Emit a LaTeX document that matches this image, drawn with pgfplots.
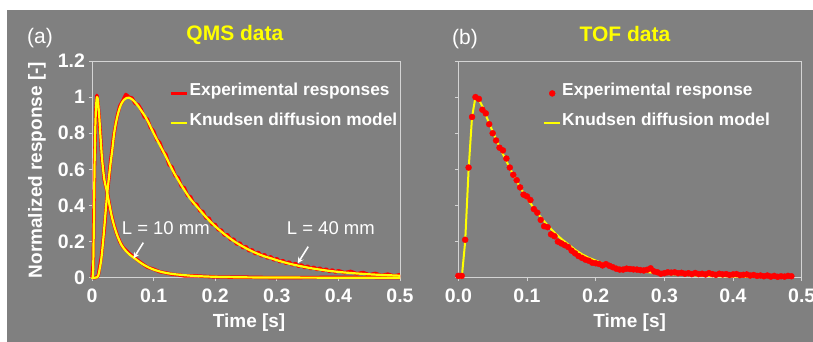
\documentclass[border=0pt]{standalone}
\usepackage{fontspec}
\setmainfont{Liberation Sans}
\usepackage{pgfplots}
\pgfplotsset{compat=1.18}
\usetikzlibrary{arrows.meta}
\definecolor{bg}{RGB}{128,128,128}
\definecolor{frm}{RGB}{212,212,212}
\definecolor{yel}{RGB}{255,255,0}
\definecolor{rd}{RGB}{255,0,0}

\pgfplotstableread{
t v
0 0
0.001 0.002
0.002 0.06
0.003 0.30
0.004 0.58
0.005 0.78
0.006 0.90
0.007 0.97
0.008 1.00
0.009 0.995
0.010 0.97
0.012 0.88
0.014 0.77
0.016 0.67
0.018 0.60
0.020 0.545
0.022 0.51
0.025 0.465
0.028 0.41
0.032 0.34
0.037 0.275
0.042 0.225
0.048 0.18
0.055 0.148
0.062 0.125
0.070 0.105
0.080 0.08
0.090 0.06
0.100 0.045
0.115 0.03
0.130 0.021
0.150 0.014
0.170 0.009
0.200 0.005
0.250 0.002
0.300 0.001
0.400 0
0.500 0
}\modelten

\pgfplotstableread{
t v
0 0
0.005 0
0.008 0.002
0.010 0.01
0.012 0.04
0.015 0.10
0.018 0.20
0.021 0.32
0.024 0.44
0.027 0.54
0.030 0.63
0.033 0.71
0.036 0.80
0.039 0.86
0.042 0.905
0.045 0.94
0.048 0.965
0.052 0.985
0.056 0.995
0.060 0.997
0.064 0.99
0.069 0.975
0.075 0.95
0.080 0.925
0.086 0.895
0.093 0.85
0.100 0.80
0.110 0.735
0.120 0.67
0.130 0.60
0.140 0.54
0.150 0.485
0.160 0.435
0.170 0.395
0.180 0.355
0.190 0.318
0.200 0.285
0.210 0.255
0.220 0.228
0.230 0.203
0.240 0.182
0.250 0.163
0.260 0.146
0.270 0.131
0.280 0.118
0.290 0.108
0.300 0.097
0.310 0.087
0.320 0.078
0.330 0.070
0.340 0.063
0.350 0.056
0.360 0.050
0.370 0.045
0.380 0.040
0.390 0.036
0.400 0.032
0.420 0.026
0.440 0.021
0.460 0.017
0.480 0.014
0.500 0.011
}\modelforty

\pgfplotstableread{
t v
0 0
0.002 0.08
0.004 0.60
0.006 0.92
0.008 1.01
0.010 0.96
0.012 0.87
0.014 0.78
0.016 0.66
0.018 0.61
0.020 0.54
0.025 0.47
0.030 0.37
0.035 0.30
0.040 0.245
0.045 0.20
0.050 0.17
0.060 0.135
0.070 0.108
0.080 0.082
0.090 0.058
0.100 0.047
0.110 0.033
0.120 0.027
0.130 0.019
0.140 0.016
0.150 0.010
0.170 0.010
0.200 0.004
0.250 0.003
0.300 0.000
0.400 0.002
0.500 0.000
}\expten

\pgfplotstableread{
t v
0 0
0.005 0
0.010 0.01
0.015 0.11
0.020 0.27
0.025 0.47
0.030 0.64
0.035 0.78
0.040 0.88
0.045 0.95
0.050 0.98
0.055 1.015
0.060 1.00
0.065 0.995
0.070 0.965
0.075 0.958
0.080 0.93
0.085 0.89
0.090 0.878
0.095 0.83
0.100 0.812
0.105 0.765
0.110 0.748
0.115 0.70
0.120 0.683
0.125 0.625
0.130 0.613
0.135 0.565
0.140 0.553
0.145 0.505
0.150 0.498
0.155 0.455
0.160 0.448
0.165 0.41
0.170 0.407
0.175 0.37
0.180 0.367
0.185 0.33
0.190 0.330
0.195 0.295
0.200 0.295
0.205 0.265
0.210 0.264
0.215 0.235
0.220 0.239
0.225 0.21
0.230 0.214
0.235 0.185
0.240 0.193
0.245 0.165
0.250 0.173
0.255 0.148
0.260 0.155
0.265 0.132
0.270 0.141
0.275 0.12
0.280 0.128
0.285 0.108
0.290 0.117
0.295 0.098
0.300 0.106
0.305 0.088
0.310 0.095
0.315 0.079
0.320 0.087
0.325 0.071
0.330 0.079
0.335 0.063
0.340 0.071
0.345 0.056
0.350 0.064
0.355 0.050
0.360 0.058
0.365 0.045
0.370 0.053
0.375 0.040
0.380 0.048
0.385 0.035
0.390 0.043
0.395 0.031
0.400 0.039
0.410 0.028
0.420 0.035
0.430 0.022
0.440 0.029
0.450 0.016
0.460 0.024
0.470 0.012
0.480 0.020
0.490 0.010
0.500 0.017
}\expforty

\pgfplotstableread{
t v
0.000 0.01
0.005 0.01
0.010 0.21
0.015 0.61
0.020 0.89
0.025 1.00
0.030 0.99
0.035 0.93
0.040 0.91
0.045 0.85
0.050 0.80
0.055 0.76
0.060 0.72
0.065 0.705
0.070 0.66
0.075 0.61
0.080 0.57
0.085 0.54
0.090 0.50
0.095 0.46
0.100 0.45
0.105 0.43
0.110 0.38
0.115 0.36
0.120 0.32
0.125 0.285
0.130 0.28
0.135 0.24
0.140 0.23
0.145 0.20
0.150 0.19
0.155 0.18
0.160 0.17
0.165 0.15
0.170 0.135
0.175 0.12
0.180 0.11
0.185 0.10
0.190 0.094
0.195 0.083
0.200 0.080
0.205 0.076
0.210 0.068
0.215 0.075
0.220 0.066
0.225 0.058
0.230 0.050
0.235 0.045
0.240 0.045
0.245 0.050
0.250 0.048
0.255 0.046
0.260 0.045
0.265 0.042
0.270 0.040
0.275 0.044
0.280 0.052
0.285 0.035
0.290 0.030
0.295 0.022
0.300 0.025
0.305 0.030
0.310 0.028
0.315 0.030
0.320 0.025
0.325 0.027
0.330 0.022
0.335 0.025
0.340 0.020
0.345 0.026
0.350 0.020
0.355 0.022
0.360 0.018
0.365 0.025
0.370 0.020
0.375 0.016
0.380 0.022
0.385 0.018
0.390 0.020
0.395 0.015
0.400 0.018
0.405 0.020
0.410 0.014
0.415 0.016
0.420 0.018
0.425 0.012
0.430 0.015
0.435 0.010
0.440 0.012
0.445 0.008
0.450 0.012
0.455 0.006
0.460 0.010
0.465 0.005
0.470 0.008
0.475 0.006
0.480 0.010
0.485 0.008
}\tofexp

\pgfplotstableread{
t v
0.000 0
0.005 0
0.010 0.20
0.015 0.60
0.020 0.89
0.025 1.00
0.030 0.985
0.035 0.95
0.040 0.90
0.045 0.855
0.050 0.81
0.060 0.725
0.070 0.645
0.080 0.57
0.090 0.50
0.100 0.44
0.110 0.385
0.120 0.335
0.130 0.29
0.140 0.25
0.150 0.215
0.160 0.185
0.170 0.155
0.180 0.13
0.190 0.11
0.200 0.095
0.210 0.08
0.220 0.068
0.230 0.058
0.240 0.05
0.260 0.038
0.280 0.029
0.300 0.022
0.320 0.017
0.340 0.013
0.360 0.010
0.380 0.008
0.400 0.006
0.430 0.004
0.460 0.003
0.480 0.002
}\tofmodel

\pgfplotsset{
  panel/.style={
    scale only axis, height=216.7pt, clip=false,
    xmin=0, xmax=0.5, ymin=0, ymax=1.2,
    axis line style={frm, line width=0.9pt},
    tick style={frm, line width=0.9pt},
    tick align=outside, major tick length=3.5pt,
    xtick pos=bottom, ytick pos=left,
    xtick={0,0.1,0.2,0.3,0.4,0.5},
    ytick={0,0.2,0.4,0.6,0.8,1,1.2},
    /pgf/number format/assume math mode=true,
    ticklabel style={text=white, font=\fontsize{19.5}{19.5}\selectfont\bfseries},
    xticklabel style={yshift=-4pt},
    label style={text=white, font=\fontsize{19}{19}\selectfont\bfseries},
    title style={text=yel, font=\fontsize{21}{21}\selectfont\bfseries, anchor=center},
    legend style={draw=none, fill=none, text=white, anchor=north west,
      font=\fontsize{17.3}{17.3}\selectfont\bfseries,
      inner sep=0pt, row sep=17.5pt,
      nodes={inner sep=1pt, text height=0.75em, text depth=0.25em}},
    legend cell align=left,
    legend image code/.code={\draw[mark repeat=2,mark phase=2,##1] plot coordinates {(0pt,0pt) (8pt,0pt) (16pt,0pt)};},
  }
}

\begin{document}
\begin{tikzpicture}[x=1pt,y=1pt]
\useasboundingbox (0,0) rectangle (813,342);
\fill[white] (0,0) rectangle (813,342);
\fill[bg] (7,0) rectangle (813,332);

\begin{axis}[panel, width=308pt, at={(92pt,64.3pt)}, anchor=south west,
  title={QMS data}, title style={at={(0.464,1.094)}},
  xlabel={Time [s]}, xlabel style={at={(0.51,-0.209)}, anchor=center},
  ylabel={Normalized response [-]}, ylabel style={at={(-0.1786,0.497)}, anchor=center},
  legend style={at={(0.25,0.879)}}]
\addplot[rd, line width=3.4pt, line join=round] table {\expforty};
\addlegendentry{Experimental responses}
\addplot[rd, line width=3.4pt, line join=round, forget plot] table {\expten};
\addplot[yel, line width=2.2pt, smooth, line join=round] table {\modelforty};
\addlegendentry{Knudsen diffusion model}
\addplot[yel, line width=2.2pt, smooth, line join=round, forget plot] table {\modelten};
\node[text=white, font=\fontsize{21}{21}\selectfont] at (axis description cs:-0.169,1.106) {(a)};
\node[text=white, font=\fontsize{18.5}{18.5}\selectfont] at (axis cs:0.1198,0.277) {L = 10 mm};
\node[text=white, font=\fontsize{18.5}{18.5}\selectfont] at (axis cs:0.3877,0.277) {L = 40 mm};
\draw[white, line width=1.6pt, -{Stealth[length=6pt,width=6pt]}] (axis cs:0.0833,0.194) -- (axis cs:0.0674,0.107);
\draw[white, line width=1.6pt, -{Stealth[length=6pt,width=6pt]}] (axis cs:0.351,0.172) -- (axis cs:0.334,0.080);
\end{axis}

\begin{axis}[panel, width=343.4pt, at={(458.3pt,64.3pt)}, anchor=south west,
  title={TOF data}, title style={at={(0.4854,1.0984)}},
  xlabel={Time [s]}, xlabel style={at={(0.499,-0.209)}, anchor=center},
  yticklabels={},
  xticklabel style={/pgf/number format/.cd, fixed, fixed zerofill, precision=1},
  legend style={at={(0.2467,0.879)}}]
\addlegendimage{only marks, mark=*, rd, mark size=3pt}
\addlegendentry{Experimental response}
\addlegendimage{yel, line width=2pt}
\addlegendentry{Knudsen diffusion model}
\addplot[yel, line width=2pt, forget plot] table {\tofmodel};
\addplot[only marks, mark=*, rd, mark size=3pt, forget plot] table {\tofexp};
\node[text=white, font=\fontsize{21}{21}\selectfont] at (axis description cs:0.0195,1.10) {(b)};
\end{axis}
\end{tikzpicture}
\end{document}
